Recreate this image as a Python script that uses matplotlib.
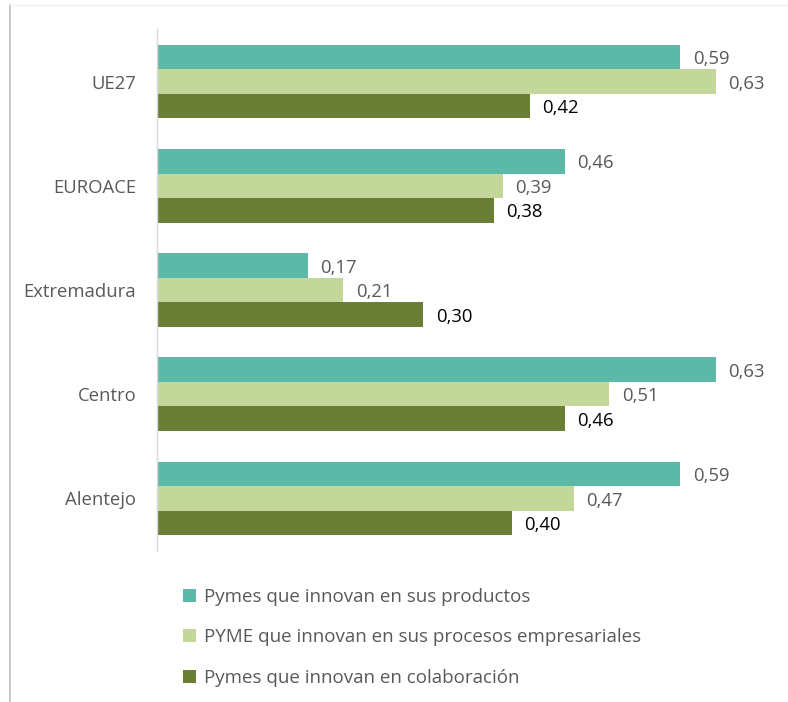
import matplotlib
matplotlib.use("Agg")
import matplotlib.pyplot as plt
from matplotlib.lines import Line2D
from matplotlib.patches import Patch

plt.rcParams['font.family'] = ['Open Sans', 'DejaVu Sans']

regions = ["UE27", "EUROACE", "Extremadura", "Centro", "Alentejo"]
series_names = [
    "Pymes que innovan en sus productos",
    "PYME que innovan en sus procesos empresariales",
    "Pymes que innovan en colaboración",
]
productos = [0.59, 0.46, 0.17, 0.63, 0.59]
procesos = [0.63, 0.39, 0.21, 0.51, 0.47]
colaboracion = [0.42, 0.38, 0.30, 0.46, 0.40]

colors = ["#5CB9A8", "#C4D79B", "#6A7F35"]
label_colors = ["#595959", "#595959", "#000000"]

fig = plt.figure(figsize=(7.88, 7.02), dpi=100)
ax = fig.add_axes([157 / 788, 1 - 550.6 / 702, (778 - 157) / 788, 521.2 / 702])

h = 0.235
values = [productos, procesos, colaboracion]
for s, (vals, col, lcol) in enumerate(zip(values, colors, label_colors)):
    ys = [i + (s - 1) * h for i in range(len(regions))]
    ax.barh(ys, vals, height=h, color=col, edgecolor="none")
    for y, v in zip(ys, vals):
        ax.annotate(f"{v:.2f}".replace(".", ","), (v, y), xytext=(9, -1.5),
                    textcoords="offset points", ha="left", va="center",
                    fontsize=13.3, color=lcol)

ax.set_ylim(len(regions) - 0.5, -0.5)
ax.set_xlim(0, 0.7)
ax.set_yticks(range(len(regions)))
ax.set_yticklabels(regions, fontsize=13.3, color="#595959")
ax.tick_params(axis="y", length=0, pad=15)
ax.set_xticks([])
for side in ["top", "right", "bottom"]:
    ax.spines[side].set_visible(False)
ax.spines["left"].set_color("#d9d9d9")
ax.spines["left"].set_linewidth(1.0)

handles = [Patch(facecolor=c, edgecolor="none") for c in colors]
fig.legend(handles, series_names, loc="upper left",
           bbox_to_anchor=(166 / 788, 1 - 571 / 702), frameon=False,
           fontsize=13.5, labelcolor="#595959", handlelength=0.7, handleheight=0.7,
           handletextpad=0.45, labelspacing=1.2)

# outer frame edges
fig.add_artist(Line2D([10 / 788, 10 / 788], [0, 1 - 5 / 702],
                      transform=fig.transFigure, color="#bfbfbf", lw=1.2))
fig.add_artist(Line2D([10 / 788, 1], [1 - 5 / 702, 1 - 5 / 702],
                      transform=fig.transFigure, color="#f2f2f2", lw=1.0))

fig.savefig("out.png", dpi=100)
